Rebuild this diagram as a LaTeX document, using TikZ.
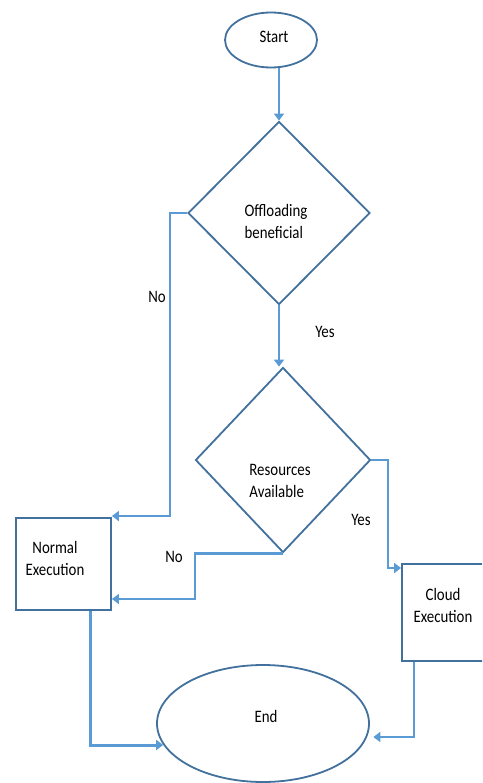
\documentclass[tikz,border=0pt]{standalone}
\usepackage{fontspec}
\setmainfont[FakeStretch=0.85]{Carlito}
\usetikzlibrary{shapes.geometric,arrows.meta,calc}
\definecolor{shapeblue}{HTML}{41719C}
\definecolor{linkblue}{HTML}{5B9BD5}
\begin{document}
\begin{tikzpicture}[x=1pt,y=-1pt,
  shapeline/.style={draw=shapeblue,line width=1.8pt,fill=white,inner sep=0pt},
  term/.style={shapeline,ellipse},
  decision/.style={shapeline,diamond},
  process/.style={shapeline,rectangle},
  link/.style={draw=linkblue,line width=2.4pt,-{Triangle[width=10pt,length=7pt]}},
  txt/.style={font=\fontsize{17.5}{22}\selectfont,align=center,inner sep=0pt},
]
\useasboundingbox (0,0) rectangle (482,783);
\fill[white] (0,0) rectangle (482,783);
\clip (0,0) rectangle (482,783);

% shapes
\node[term,minimum width=92pt,minimum height=55pt] (start) at (271,40) {};
\node[decision,minimum width=182pt,minimum height=183pt] (d1) at (279,213) {};
\node[decision,minimum width=175pt,minimum height=185pt] (d2) at (283,460) {};
\node[process,minimum width=95pt,minimum height=92pt] (normal) at (63.5,564) {};
\node[process,minimum width=93pt,minimum height=97pt] (cloud) at (448.5,612.5) {};
\node[term,minimum width=212pt,minimum height=117pt] (end) at (263,723.5) {};

% texts
\node[txt] (tstart) at (274,37) {Start};
\node[txt,align=left] (td1) at (276,221) {Offloading\\beneficial};
\node[txt,align=left] (td2) at (280,481) {Resources\\Available};
\node[txt] (tnormal) at (55,558) {Normal\\Execution};
\node[txt] (tcloud) at (443,605) {Cloud\\Execution};
\node[txt] (tend) at (266,716) {End};

% bend coordinates
\coordinate (b1) at (170,213);
\coordinate (b1b) at (170,516);
\coordinate (b2) at (195,599);
\coordinate (b3) at (388,568);
\coordinate (b4) at (90,745);
\coordinate (b5) at (414,737);

% connectors
\draw[link] (start.south -| d1.north) -- (d1.north);
\draw[link] (d1.south) -- (d1.south |- d2.north);
\draw[link] (d1.west) -- (b1) -- (b1b) -- (normal.north east |- b1b);
\draw[link] (d2.south) -| (b2) -- (normal.east |- b2);
\draw[link] (d2.east) -| (b3) -- (cloud.west |- b3);
\draw[link,line width=3pt] (normal.south -| b4) -- (b4) -- (b4 -| end.192);
\draw[link,shorten >=6pt] (cloud.south -| b5) -- (b5) -- (b5 -| end.-7.5);

% labels
\node[txt] (lno1) at (157,297) {No};
\node[txt] (lyes1) at (325,332) {Yes};
\node[txt] (lyes2) at (361,520) {Yes};
\node[txt] (lno2) at (174,557) {No};
\end{tikzpicture}
\end{document}
